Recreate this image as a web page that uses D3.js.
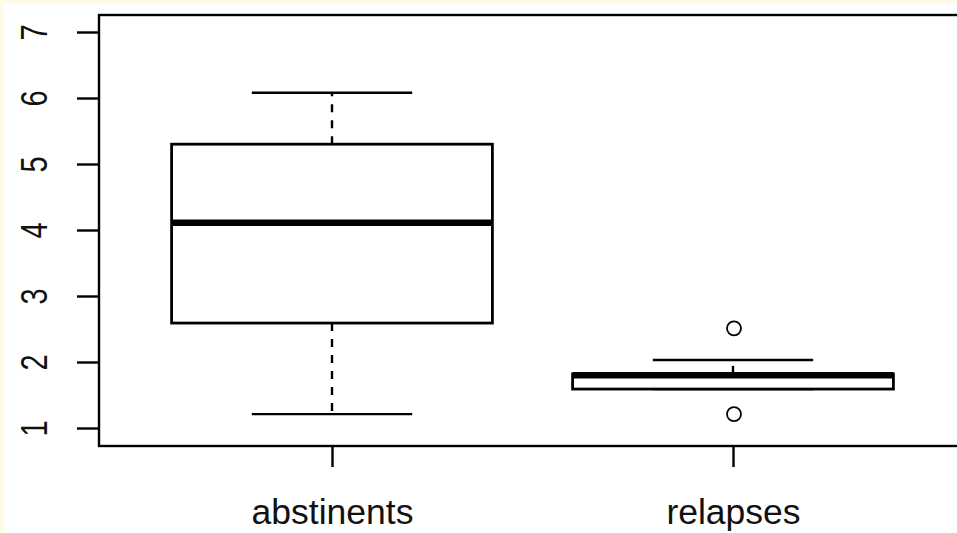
<!DOCTYPE html>
<html>
<head>
<meta charset="utf-8">
<script src="https://cdn.jsdelivr.net/npm/d3@7"></script>
<style>
  body { margin: 0; background: #fffbe7; }
  svg { display: block; }
  text { font-family: "Liberation Sans", Arial, sans-serif; fill: #111; }
</style>
</head>
<body>
<svg id="chart"></svg>
<script>
// data
const groups = ["abstinents", "relapses"];
const lowWhisker = [1.21, 1.59];
const q1 = [2.59, 1.59];
const median = [4.11, 1.80];
const q3 = [5.30, 1.82];
const highWhisker = [6.08, 2.03];
const outliers = [[], [2.51, 1.21]];
const yTicks = [1, 2, 3, 4, 5, 6, 7];

const W = 957, H = 533;
const svg = d3.select("#chart").attr("width", W).attr("height", H);

// white paper, leaving a thin cream strip top and left
svg.append("rect").attr("x", 4).attr("y", 4).attr("width", W).attr("height", H).attr("fill", "#fff");

const y = d3.scaleLinear().domain([1, 7]).range([428, 32]);
const x = d3.scalePoint().domain(groups).range([332, 733]);
const boxW = 0.8 * (x(groups[1]) - x(groups[0]));

const frame = { left: 99, top: 15, bottom: 446 };

// plot frame (right edge is cut off in the original)
svg.append("rect")
  .attr("x", frame.left).attr("y", frame.top)
  .attr("width", W + 20).attr("height", frame.bottom - frame.top)
  .attr("fill", "none").attr("stroke", "#000").attr("stroke-width", 2.4);

// y axis
const yAxis = svg.append("g")
  .attr("transform", "translate(" + frame.left + ",0)")
  .call(d3.axisLeft(y).tickValues(yTicks).tickSize(22).tickFormat(d3.format("d")));
yAxis.select(".domain").remove();
yAxis.selectAll("line").attr("stroke", "#000").attr("stroke-width", 2.4);
yAxis.selectAll("text").remove();
yAxis.selectAll(".tick").append("text")
  .attr("transform", "translate(-52,0) rotate(-90) scale(1,1.3)")
  .attr("text-anchor", "middle")
  .attr("font-size", 29)
  .text(d => d);

// x axis
const xAxis = svg.append("g")
  .attr("transform", "translate(0," + frame.bottom + ")")
  .call(d3.axisBottom(x).tickSize(21).tickPadding(0));
xAxis.select(".domain").remove();
xAxis.selectAll("line").attr("stroke", "#000").attr("stroke-width", 2.4);
xAxis.selectAll("text")
  .attr("y", 78).attr("dy", 0)
  .attr("font-size", 35.5)
  .style("fill", "#111");

// boxes
const boxes = svg.append("g");
groups.forEach((g, i) => {
  const cx = x(g);
  const bg = boxes.append("g");
  // dashed whiskers
  bg.append("line")
    .attr("x1", cx).attr("x2", cx)
    .attr("y1", y(q3[i])).attr("y2", y(highWhisker[i]))
    .attr("stroke", "#000").attr("stroke-width", 2.4).attr("stroke-dasharray", "8,8");
  bg.append("line")
    .attr("x1", cx).attr("x2", cx)
    .attr("y1", y(q1[i])).attr("y2", y(lowWhisker[i]))
    .attr("stroke", "#000").attr("stroke-width", 2.4).attr("stroke-dasharray", "8,8");
  // whisker caps
  [highWhisker[i], lowWhisker[i]].forEach(v => {
    bg.append("line")
      .attr("x1", cx - boxW / 4).attr("x2", cx + boxW / 4)
      .attr("y1", y(v)).attr("y2", y(v))
      .attr("stroke", "#000").attr("stroke-width", 2.4);
  });
  bg.append("rect")
    .attr("x", cx - boxW / 2).attr("width", boxW)
    .attr("y", y(q3[i])).attr("height", y(q1[i]) - y(q3[i]))
    .attr("fill", "#fff").attr("stroke", "#000").attr("stroke-width", 2.8);
  bg.append("line")
    .attr("x1", cx - boxW / 2).attr("x2", cx + boxW / 2)
    .attr("y1", y(median[i])).attr("y2", y(median[i]))
    .attr("stroke", "#000").attr("stroke-width", 6.5);
  bg.selectAll("circle")
    .data(outliers[i])
    .enter()
    .append("circle")
    .attr("cx", cx + 1)
    .attr("cy", d => y(d))
    .attr("r", 7)
    .attr("fill", "none")
    .attr("stroke", "#000")
    .attr("stroke-width", 1.8);
});
</script>
</body>
</html>
